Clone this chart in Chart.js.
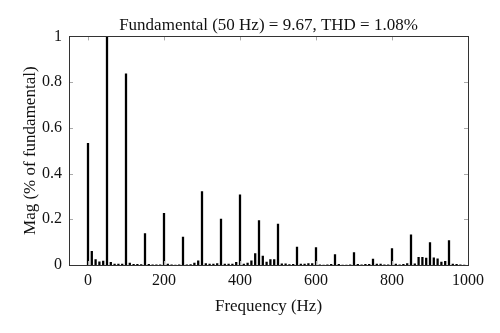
<!DOCTYPE html>
<html>
<head>
<meta charset="utf-8">
<script src="https://cdn.jsdelivr.net/npm/chart.js@4/dist/chart.umd.min.js"></script>
<style>
  html, body { margin: 0; padding: 0; background: #fff; }
  #spectrum { display: block; }
</style>
</head>
<body>
<canvas id="spectrum" width="500" height="333"></canvas>
<script>
// harmonic bins (Hz)
const freqs = [
    0, 10, 20, 30, 40, 50, 60, 70, 80, 90,
    100, 110, 120, 130, 140, 150, 160, 170, 180, 190,
    200, 210, 220, 230, 240, 250, 260, 270, 280, 290,
    300, 310, 320, 330, 340, 350, 360, 370, 380, 390,
    400, 410, 420, 430, 440, 450, 460, 470, 480, 490,
    500, 510, 520, 530, 540, 550, 560, 570, 580, 590,
    600, 610, 620, 630, 640, 650, 660, 670, 680, 690,
    700, 710, 720, 730, 740, 750, 760, 770, 780, 790,
    800, 810, 820, 830, 840, 850, 860, 870, 880, 890,
    900, 910, 920, 930, 940, 950, 960, 970, 980, 990
];

// magnitude of each bin, relative to the fundamental
const mags = [
    0.534, 0.061, 0.025, 0.015, 0.019, 1.000, 0.013, 0.006, 0.005, 0.006,
    0.838, 0.010, 0.004, 0.004, 0.003, 0.139, 0.004, 0.002, 0.002, 0.002,
    0.227, 0.006, 0.002, 0.001, 0.002, 0.124, 0.002, 0.003, 0.010, 0.020,
    0.323, 0.008, 0.005, 0.005, 0.008, 0.202, 0.006, 0.005, 0.006, 0.013,
    0.308, 0.006, 0.010, 0.020, 0.051, 0.196, 0.040, 0.014, 0.025, 0.025,
    0.180, 0.007, 0.007, 0.003, 0.004, 0.080, 0.005, 0.006, 0.008, 0.008,
    0.078, 0.002, 0.001, 0.002, 0.004, 0.047, 0.004, 0.001, 0.001, 0.002,
    0.056, 0.004, 0.002, 0.004, 0.004, 0.027, 0.005, 0.005, 0.002, 0.002,
    0.073, 0.005, 0.002, 0.004, 0.008, 0.133, 0.007, 0.035, 0.035, 0.032,
    0.100, 0.033, 0.028, 0.014, 0.018, 0.108, 0.006, 0.004, 0.002, 0.001
];

const xTicks = [0, 200, 400, 600, 800, 1000];
const yTicks = [0, 0.2, 0.4, 0.6, 0.8, 1];

const titleText = "Fundamental (50 Hz) = 9.67, THD = 1.08%";

Chart.defaults.font.family = "'Liberation Serif', 'DejaVu Serif', serif";
Chart.defaults.font.size = 16;
Chart.defaults.color = "#111";

// box around the plot with short inward tick marks on all four sides
const axesBox = {
    id: "axesBox",
    afterDatasetsDraw(chart) {
        const {ctx, chartArea: a, scales} = chart;
        ctx.save();
        ctx.lineWidth = 1;
        ctx.strokeStyle = "#aaa";
        ctx.beginPath();
        xTicks.forEach(v => {
            const px = Math.round(scales.x.getPixelForValue(v)) + 0.5;
            ctx.moveTo(px, a.bottom); ctx.lineTo(px, a.bottom - 4);
            ctx.moveTo(px, a.top); ctx.lineTo(px, a.top + 4);
        });
        yTicks.forEach(v => {
            const py = Math.round(scales.y.getPixelForValue(v)) + 0.5;
            ctx.moveTo(a.left, py); ctx.lineTo(a.left + 4, py);
            ctx.moveTo(a.right, py); ctx.lineTo(a.right - 4, py);
        });
        ctx.stroke();
        ctx.strokeStyle = "#333";
        ctx.strokeRect(Math.round(a.left) + 0.5, Math.round(a.top) + 0.5,
            Math.round(a.right - a.left), Math.round(a.bottom - a.top));
        ctx.restore();
    }
};

new Chart(document.getElementById("spectrum"), {
    type: "bar",
    data: {
        datasets: [{
            data: freqs.map((f, i) => ({x: f, y: mags[i]})),
            backgroundColor: "#000",
            borderWidth: 0,
            barPercentage: 0.6,
            categoryPercentage: 1.0
        }]
    },
    options: {
        responsive: false,
        animation: false,
        layout: {padding: {left: 0, right: 32, top: 0, bottom: 0}},
        plugins: {
            legend: {display: false},
            tooltip: {enabled: false},
            title: {
                display: true,
                text: titleText,
                fullSize: false,
                font: {size: 17, weight: "normal"},
                color: "#111",
                padding: {top: 15, bottom: 1}
            }
        },
        scales: {
            x: {
                type: "linear",
                min: -50,
                max: 1000,
                offset: false,
                grid: {display: false, drawTicks: false},
                border: {display: false},
                afterBuildTicks: s => { s.ticks = xTicks.map(v => ({value: v})); },
                afterFit: s => { s.height = 68; },
                ticks: {padding: 6, maxRotation: 0, color: "#111", callback: v => String(v)},
                title: {
                    display: true,
                    text: "Frequency (Hz)",
                    color: "#111",
                    font: {size: 17},
                    padding: {top: 0, bottom: 16}
                }
            },
            y: {
                min: 0,
                max: 1,
                grid: {display: false, drawTicks: false},
                border: {display: false},
                afterBuildTicks: s => { s.ticks = yTicks.map(v => ({value: v})); },
                afterFit: s => { s.width = 69; },
                ticks: {padding: 7, color: "#111", callback: v => String(v)},
                title: {
                    display: true,
                    text: "Mag (% of fundamental)",
                    color: "#111",
                    font: {size: 17},
                    padding: {top: 20, bottom: 0}
                }
            }
        }
    },
    plugins: [axesBox]
});
</script>
</body>
</html>
